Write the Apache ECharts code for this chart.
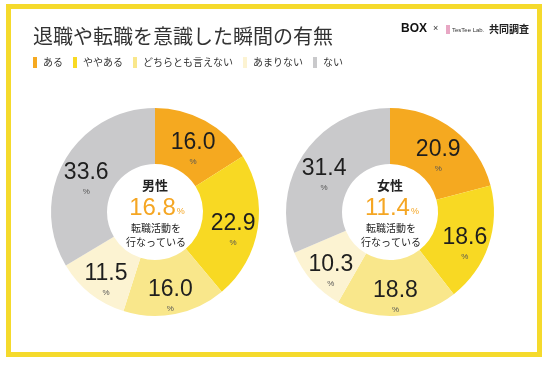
<!DOCTYPE html>
<html><head><meta charset="utf-8">
<script src="https://cdn.jsdelivr.net/npm/echarts@6/dist/echarts.min.js"></script>
<style>html,body{margin:0;padding:0;background:#fff;}#c{width:559px;height:372px;}</style>
</head><body><div id="c"></div>
<script>
const titleText = '退職や転職を意識した瞬間の有無';
const categories = ['ある', 'ややある', 'どちらとも言えない', 'あまりない', 'ない'];
const colors = ['#F5A920', '#F8D923', '#F9E78B', '#FCF3D2', '#C9C9CB'];
const groups = ['男性', '女性'];
const maleValues = [16.0, 22.9, 16.0, 11.5, 33.6];
const femaleValues = [20.9, 18.6, 18.8, 10.3, 31.4];
const activeRates = [16.8, 11.4];
const subText = ['転職活動を', '行なっている'];

const JP = '"Noto Sans CJK JP", "Noto Sans", sans-serif';
const NUM = '"Liberation Sans", Arial, sans-serif';
const centers = [[155, 212], [390, 212]];

function pieSeries(name, values, center) {
  return {
    type: 'pie', name: name, center: center, radius: [48, 104],
    startAngle: 90, clockwise: true, avoidLabelOverlap: false,
    emphasis: { disabled: true }, silent: true,
    itemStyle: { borderWidth: 0 },
    label: {
      show: true, position: 'inside', padding: [14, 0, 0, 0],
      formatter: p => '{n|' + p.value.toFixed(1) + '}\n{p|%}',
      rich: {
        n: { fontFamily: NUM, fontSize: 23, color: '#1e1e1e', lineHeight: 24, align: 'center' },
        p: { fontFamily: NUM, fontSize: 8, color: '#555', lineHeight: 14, align: 'center' }
      }
    },
    labelLine: { show: false },
    data: categories.map((c, i) => ({ name: c, value: values[i], itemStyle: { color: colors[i] } }))
  };
}

const centerGraphics = [];
groups.forEach((g, i) => {
  const [cx, cy] = centers[i];
  centerGraphics.push({ type: 'text', x: cx, y: cy - 27, style: { text: g, font: 'bold 13px ' + JP, fill: '#222', align: 'center', verticalAlign: 'middle' } });
  centerGraphics.push({ type: 'text', x: cx + 2, y: cy - 4, style: {
    text: '{a|' + activeRates[i].toFixed(1) + '}{b|%}', align: 'center', verticalAlign: 'middle',
    rich: { a: { fontFamily: NUM, fontSize: 24, fill: '#F5A623', color: '#F5A623' }, b: { fontFamily: NUM, fontSize: 9, color: '#F5A623', fill: '#F5A623', padding: [8, 0, 0, 1] } }
  } });
  centerGraphics.push({ type: 'text', x: cx + 1, y: cy + 16, style: { text: subText[0], font: '10px ' + JP, fill: '#222', align: 'center', verticalAlign: 'middle' } });
  centerGraphics.push({ type: 'text', x: cx + 1, y: cy + 30, style: { text: subText[1], font: '10px ' + JP, fill: '#222', align: 'center', verticalAlign: 'middle' } });
});

const chart = echarts.init(document.getElementById('c'), null, { renderer: 'canvas' });
chart.setOption({
  animation: false,
  backgroundColor: '#fff',
  title: { text: titleText, left: 28, top: 21, textStyle: { fontFamily: JP, fontSize: 20, fontWeight: 'normal', color: '#333' } },
  legend: {
    left: 28, top: 52, itemWidth: 4, itemHeight: 11, itemGap: 10, icon: 'rect',
    selectedMode: false,
    textStyle: { fontFamily: JP, fontSize: 10, color: '#333', padding: [0, 0, 0, 1] },
    data: categories
  },
  color: colors,
  graphic: [
    { type: 'rect', shape: { x: 8.5, y: 6.5, width: 531, height: 348 }, style: { fill: 'none', stroke: '#F5DA2C', lineWidth: 5 }, z: 0 },
    { type: 'text', x: 401, y: 29, style: { text: 'BOX', font: 'bold 12px ' + NUM, fill: '#111', verticalAlign: 'middle' } },
    { type: 'text', x: 433, y: 29, style: { text: '×', font: '9px ' + NUM, fill: '#333', verticalAlign: 'middle' } },
    { type: 'rect', shape: { x: 446, y: 25, width: 4, height: 9 }, style: { fill: '#E8A7C4' } },
    { type: 'text', x: 452, y: 30, style: { text: 'TesTee Lab.', font: '6px ' + NUM, fill: '#333', verticalAlign: 'middle' } },
    { type: 'text', x: 489, y: 29, style: { text: '共同調査', font: 'bold 10px ' + JP, fill: '#222', verticalAlign: 'middle' } }
  ].concat(centerGraphics),
  series: [
    pieSeries(groups[0], maleValues, centers[0]),
    pieSeries(groups[1], femaleValues, centers[1])
  ]
});
</script></body></html>
